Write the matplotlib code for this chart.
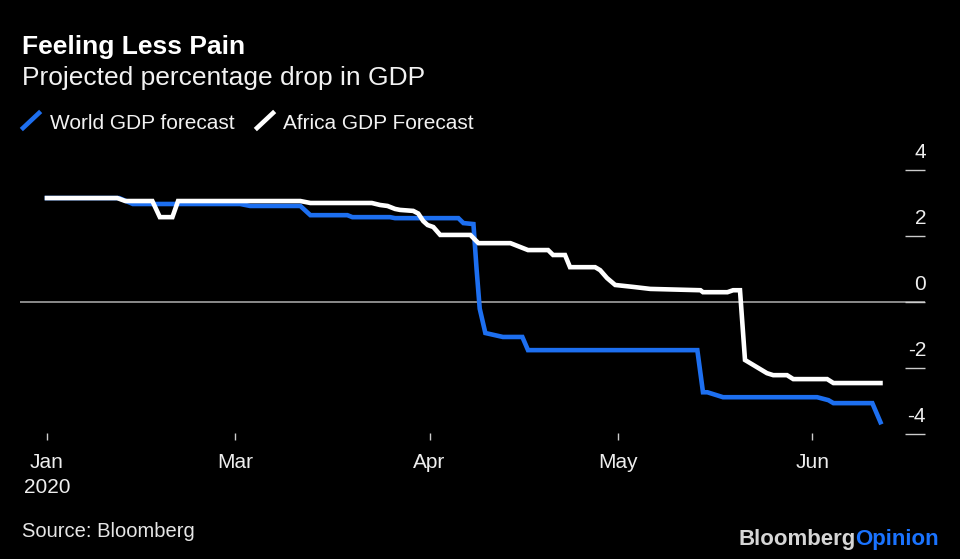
import matplotlib
matplotlib.use("Agg")
import matplotlib.pyplot as plt
from matplotlib.lines import Line2D
from matplotlib import transforms


# x values are days counted from 1 Jan 2020
WORLD_DAYS = [30, 41.5, 43.7, 60.8, 62.4, 70.4, 72, 77.9, 78.7, 84.7, 85.5, 95.6,
              96.4, 98, 98.5, 99, 99.9, 102.7, 105.8, 106.7, 133.7, 134.6, 135.3,
              137.8, 152.8, 154.6, 155.4, 161.6, 162.9]
WORLD_GDP = [3.16, 3.16, 2.98, 2.98, 2.92, 2.92, 2.64, 2.64, 2.58, 2.58, 2.55, 2.55,
             2.40, 2.37, 1.0, -0.2, -0.94, -1.06, -1.06, -1.46, -1.46, -2.74, -2.74,
             -2.89, -2.89, -2.98, -3.07, -3.07, -3.65]

AFRICA_DAYS = [30, 41.2, 42.5, 46.8, 48, 50, 50.9, 70.4, 72, 81.8, 83.1, 84.3, 85.5,
               86.3, 88.4, 89.2, 90.0, 90.7, 91.6, 92.7, 97.5, 98.8, 103.9, 106.7,
               109.9, 110.7, 112.6, 113.4, 117.4, 118.2, 119.3, 120.6, 123.5, 126.2,
               134.2, 134.6, 138.5, 139.4, 140.5, 141.3, 144.8, 145.8, 148, 149,
               154.4, 155.4, 162.9]
AFRICA_GDP = [3.16, 3.16, 3.07, 3.07, 2.58, 2.58, 3.07, 3.07, 3.01, 3.01, 2.95, 2.92,
              2.83, 2.80, 2.77, 2.69, 2.46, 2.34, 2.28, 2.04, 2.04, 1.79, 1.79, 1.58,
              1.58, 1.43, 1.43, 1.06, 1.06, 0.97, 0.73, 0.52, 0.46, 0.40, 0.36, 0.30,
              0.30, 0.36, 0.36, -1.76, -2.16, -2.22, -2.22, -2.34, -2.34, -2.46, -2.46]

X_TICKS = [30, 60, 91, 121, 152]
X_LABELS = ["Jan\n2020", "Mar", "Apr", "May", "Jun"]
Y_TICKS = [-4, -2, 0, 2, 4]
Y_LABELS = ["-4", "-2", "0", "2", "4"]

BLUE = "#1d6ff0"
WHITE = "#ffffff"

plt.rcParams["font.family"] = ["Liberation Sans", "DejaVu Sans"]

W, H = 960, 559
fig = plt.figure(figsize=(9.6, 5.59), dpi=100, facecolor="black")
ax = fig.add_axes([20 / W, 1 - 440 / H, 905 / W, 290 / H], facecolor="black")

ax.axhline(0, color="#b0b0b0", linewidth=1.1, zorder=1)
ax.plot(AFRICA_DAYS, AFRICA_GDP, color=WHITE, linewidth=3.3, zorder=3,
        solid_joinstyle="miter")
ax.plot(WORLD_DAYS, WORLD_GDP, color=BLUE, linewidth=3.3, zorder=2,
        solid_joinstyle="miter")

ax.set_xlim(25.7, 170.0)
ax.set_ylim(-4.19, 4.62)
for spine in ax.spines.values():
    spine.set_visible(False)

ax.set_xticks(X_TICKS, X_LABELS)
ax.tick_params(axis="x", direction="in", length=5, width=1, color="#cccccc",
               labelcolor="#eeeeee", labelsize=15, pad=9)
for lab in ax.get_xticklabels():
    lab.set_linespacing(1.45)

ax.yaxis.tick_right()
ax.set_yticks(Y_TICKS)
ax.tick_params(axis="y", direction="in", length=14.4, width=1, color="#cccccc",
               labelright=False, labelleft=False)
ylab_trans = transforms.offset_copy(
    transforms.blended_transform_factory(ax.transAxes, ax.transData),
    fig=fig, x=1, y=12, units="dots")
for v, s in zip(Y_TICKS, Y_LABELS):
    ax.text(1.0, v, s, transform=ylab_trans, ha="right", va="baseline",
            fontsize=15, color="#eeeeee")

# header
fig.text(22 / W, 1 - 54 / H, "Feeling Less Pain", fontsize=19, fontweight="bold",
         color="white", va="baseline")
fig.text(22 / W, 1 - 85 / H, "Projected percentage drop in GDP", fontsize=19,
         color="#f2f2f2", va="baseline")

# legend
fig.add_artist(Line2D([23 / W, 39 / W], [1 - 128 / H, 1 - 113 / H], color=BLUE,
                      linewidth=3.3, transform=fig.transFigure))
fig.text(50 / W, 1 - 129 / H, "World GDP forecast", fontsize=15, color="#f2f2f2",
         va="baseline")
fig.add_artist(Line2D([257 / W, 273 / W], [1 - 128 / H, 1 - 113 / H], color=WHITE,
                      linewidth=3.3, transform=fig.transFigure))
fig.text(283 / W, 1 - 129 / H, "Africa GDP Forecast", fontsize=15, color="#f2f2f2",
         va="baseline")

# footer
fig.text(22 / W, 1 - 537 / H, "Source: Bloomberg", fontsize=14.5, color="#e6e6e6",
         va="baseline")
opinion = fig.text(939 / W, 1 - 545 / H, "Opinion", fontsize=16, fontweight="bold",
                   color="#1a73ff", ha="right", va="baseline")
ax.annotate("Bloomberg", xy=(0, 0), xycoords=opinion, ha="right", va="bottom",
            fontsize=16, fontweight="bold", color="#d6d6d6", annotation_clip=False)

fig.savefig("out.png", dpi=100, facecolor="black")
